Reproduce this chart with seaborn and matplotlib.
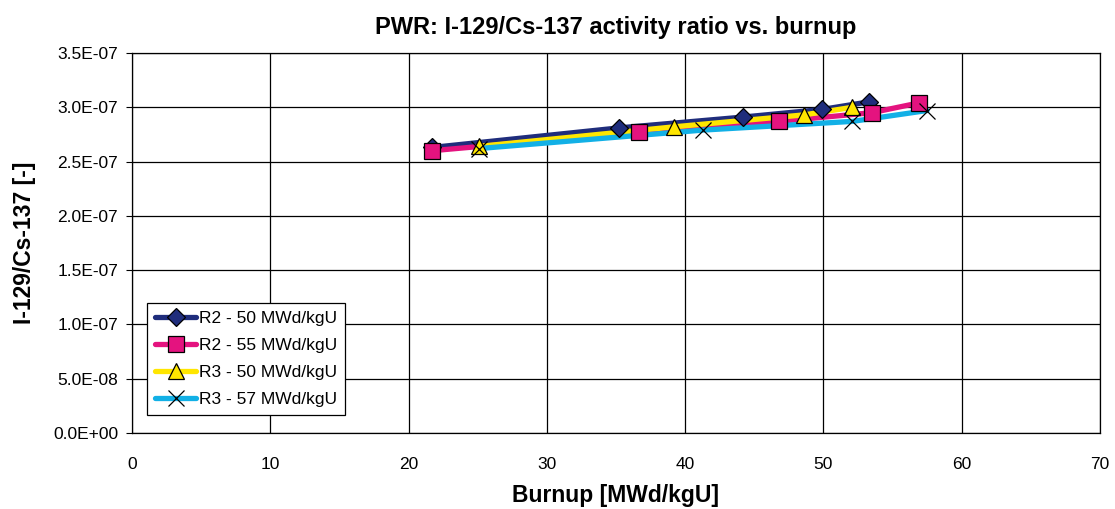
import pandas as pd
import matplotlib
matplotlib.use("Agg")
import matplotlib.pyplot as plt
from matplotlib.lines import Line2D
import seaborn as sns

# values
r2_50_burnup = [21.7, 35.2, 44.2, 49.9, 53.3]
r2_50_ratio = [2.63e-7, 2.81e-7, 2.91e-7, 2.98e-7, 3.05e-7]

r2_55_burnup = [21.7, 36.7, 46.8, 53.5, 56.9]
r2_55_ratio = [2.60e-7, 2.77e-7, 2.87e-7, 2.95e-7, 3.04e-7]

r3_50_burnup = [25.1, 39.2, 48.6, 52.1]
r3_50_ratio = [2.64e-7, 2.82e-7, 2.93e-7, 3.00e-7]

r3_57_burnup = [25.1, 41.3, 52.1, 57.5]
r3_57_ratio = [2.62e-7, 2.79e-7, 2.87e-7, 2.97e-7]

series_names = ["R2 - 50 MWd/kgU", "R2 - 55 MWd/kgU", "R3 - 50 MWd/kgU", "R3 - 57 MWd/kgU"]
y_ticks = [0.0, 0.5e-7, 1.0e-7, 1.5e-7, 2.0e-7, 2.5e-7, 3.0e-7, 3.5e-7]


def build_frame():
    rows = []
    for name, xs, ys in zip(series_names,
                            [r2_50_burnup, r2_55_burnup, r3_50_burnup, r3_57_burnup],
                            [r2_50_ratio, r2_55_ratio, r3_50_ratio, r3_57_ratio]):
        for x, y in zip(xs, ys):
            rows.append({"series": name, "burnup": x, "ratio": y})
    return pd.DataFrame(rows)


def main():
    sns.set_style("white")
    plt.rcParams["font.family"] = ["Liberation Sans", "DejaVu Sans"]
    plt.rcParams["text.color"] = "black"
    plt.rcParams["axes.labelcolor"] = "black"
    plt.rcParams["xtick.color"] = "black"
    plt.rcParams["ytick.color"] = "black"

    df = build_frame()
    colors = ["#1f2d7c", "#e4137f", "#ffe600", "#12b0e6"]
    markers = ["D", "s", "^", "x"]
    msizes = [9, 11, 11, 11]

    fig = plt.figure(figsize=(11.15, 5.09), dpi=100)
    ax = fig.add_axes([0.1184, 0.1493, 0.8681, 0.7466])

    # lines first, markers on top of all lines
    for name, col in zip(series_names, colors):
        sub = df[df["series"] == name]
        sns.lineplot(data=sub, x="burnup", y="ratio", ax=ax, color=col, lw=3.8,
                     sort=False, estimator=None, legend=False, zorder=3)

    handles = []
    for name, col, mk, ms in zip(series_names, colors, markers, msizes):
        sub = df[df["series"] == name]
        face = "black" if mk == "x" else col
        ax.plot(sub["burnup"], sub["ratio"], ls="none", marker=mk, markersize=ms,
                markerfacecolor=face, markeredgecolor="black", markeredgewidth=0.9,
                zorder=4)
        handles.append(Line2D([], [], color=col, lw=3.8, marker=mk, markersize=ms,
                              markerfacecolor=face, markeredgecolor="black",
                              markeredgewidth=0.9, label=name))

    ax.set_xlim(0, 70)
    ax.set_ylim(0, 3.5e-7)
    ax.set_xticks(range(0, 71, 10))
    ax.set_yticks(y_ticks)
    ax.set_yticklabels(["%.1E" % v for v in y_ticks])
    ax.grid(True, color="black", lw=0.9)
    for s in ax.spines.values():
        s.set_color("black")
        s.set_linewidth(0.9)
    ax.tick_params(axis="y", labelsize=12.5, length=4, direction="out", left=True, pad=6)
    ax.tick_params(axis="x", labelsize=12.5, length=0, bottom=True, pad=17)

    ax.set_title("PWR: I-129/Cs-137 activity ratio vs. burnup", fontsize=17,
                 fontweight="bold", pad=14)
    ax.set_xlabel("Burnup [MWd/kgU]", fontsize=16.5, fontweight="bold", labelpad=9)
    ax.set_ylabel("I-129/Cs-137 [-]", fontsize=16.5, fontweight="bold", labelpad=12)

    leg = ax.legend(handles=handles, loc="lower left", bbox_to_anchor=(0.0155, 0.047),
                    borderaxespad=0, fontsize=12.5, frameon=True, fancybox=False,
                    edgecolor="black", framealpha=1, handlelength=2.4,
                    handletextpad=0.15, borderpad=0.45, labelspacing=0.68)
    leg.get_frame().set_linewidth(0.9)

    plt.savefig("out.png", dpi=100)


if __name__ == "__main__":
    main()
